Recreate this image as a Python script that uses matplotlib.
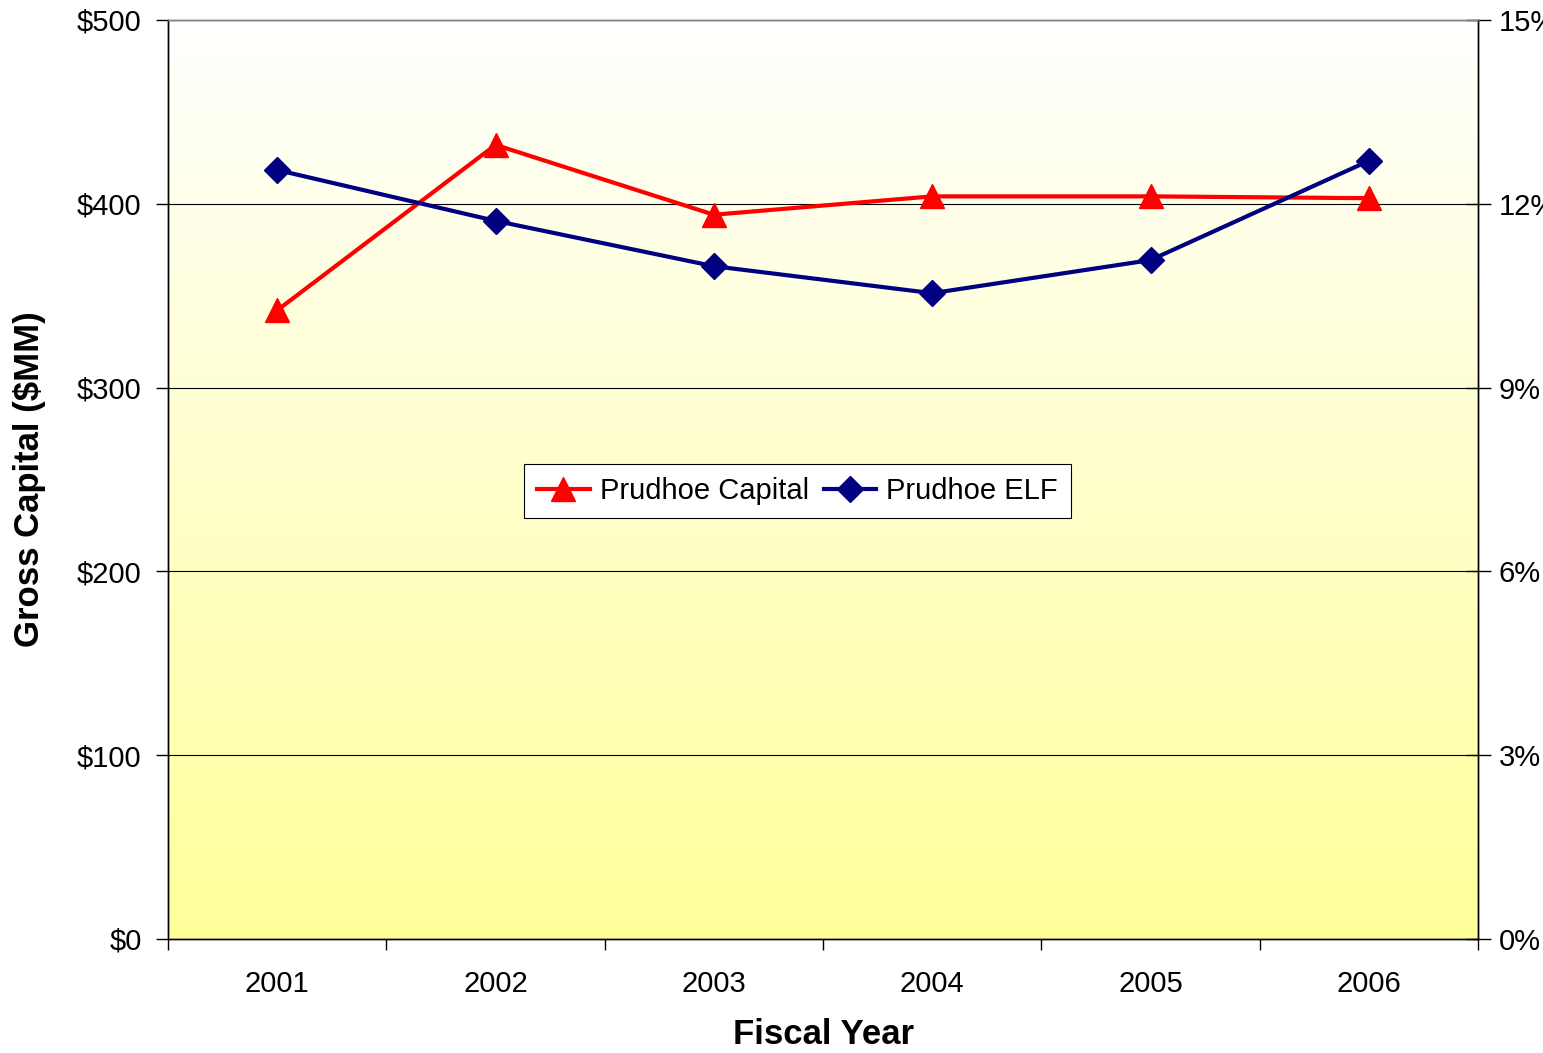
import numpy as np
import matplotlib.pyplot as plt

plt.rcParams['font.family'] = ['Liberation Sans', 'DejaVu Sans']

# data
years = ['2001', '2002', '2003', '2004', '2005', '2006']
capital = [342, 432, 394, 404, 404, 403]          # $MM, left axis
elf = [12.55, 11.72, 10.98, 10.54, 11.08, 12.70]  # %, right axis
left_ticks = [0, 100, 200, 300, 400, 500]
right_ticks = [0, 3, 6, 9, 12, 15]

fig = plt.figure(figsize=(15.43, 10.53), dpi=100)
ax = fig.add_axes([0.1089, 0.1083, 0.849, 0.8728])

x = np.arange(len(years))
n = len(years)

# gradient background: pale yellow at bottom -> white at top
grad = np.linspace(0, 1, 256).reshape(-1, 1)
bot = np.array([1.0, 1.0, 0.6])
top = np.array([1.0, 1.0, 1.0])
img = bot + (top - bot) * grad[:, :, None]
ax.imshow(img, extent=[-0.5, n - 0.5, 0, 500], aspect='auto',
          origin='lower', zorder=0)
ax.set_xlim(-0.5, n - 0.5)
ax.set_ylim(0, 500)

for t in left_ticks[1:]:
    ax.axhline(t, color='black', lw=0.8, zorder=1)

l1, = ax.plot(x, capital, color='#ff0000', lw=3, marker='^', markersize=17,
              zorder=4, label='Prudhoe Capital')

ax2 = ax.twinx()
ax2.set_ylim(0, 15)
l2, = ax2.plot(x, elf, color='#000080', lw=3, marker='D', markersize=13,
               zorder=4, label='Prudhoe ELF')

ax.set_yticks(left_ticks)
ax.set_yticklabels(['$%d' % v for v in left_ticks])
ax2.set_yticks(right_ticks)
ax2.set_yticklabels(['%d%%' % v for v in right_ticks])

ax.set_xticks(np.arange(n + 1) - 0.5)
ax.set_xticklabels([])
ax.set_xticks(x, minor=True)
ax.set_xticklabels(years, minor=True)
ax.tick_params(axis='x', which='major', direction='out', length=8, width=1)
ax.tick_params(axis='x', which='minor', length=0, labelsize=21, pad=22)
ax.tick_params(axis='y', direction='out', length=9, width=1, labelsize=21, pad=10)
ax2.tick_params(axis='y', direction='inout', length=18, width=1, labelsize=21, pad=6)

for a in (ax, ax2):
    for s in a.spines.values():
        s.set_linewidth(1)
ax.spines['top'].set_color('#808080')
ax2.spines['top'].set_color('#808080')

ax.set_xlabel('Fiscal Year', fontsize=25, fontweight='bold', labelpad=15)
ax.set_ylabel('Gross Capital ($MM)', fontsize=25, fontweight='bold', labelpad=22)

leg = ax2.legend(handles=[l1, l2], loc='center', bbox_to_anchor=(0.4805, 0.4875),
                 ncol=2, fontsize=21, frameon=True, fancybox=False,
                 handlelength=1.8, handletextpad=0.35, columnspacing=0.5,
                 borderpad=0.45, borderaxespad=0)
leg.get_frame().set_edgecolor('black')
leg.get_frame().set_linewidth(0.8)
leg.get_frame().set_alpha(1)

fig.savefig('out.png', dpi=100)
